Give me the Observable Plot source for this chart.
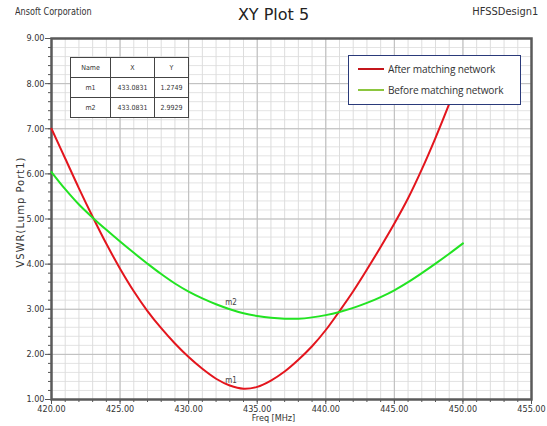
<!DOCTYPE html>
<html><head><meta charset="utf-8">
<script src="https://cdn.jsdelivr.net/npm/d3@7"></script>
<script src="https://cdn.jsdelivr.net/npm/@observablehq/plot@0.6"></script>
<style>
body{margin:0;background:#fff;font-family:"DejaVu Sans",sans-serif;}
#wrap{position:relative;width:547px;height:426px;overflow:hidden;}
.abs{position:absolute;white-space:nowrap;}
#tbl{position:absolute;left:70px;top:57px;border-collapse:collapse;background:#fff;font-size:7px;color:#333;font-stretch:condensed;}
#tbl td{border:1px solid #444;text-align:center;height:19px;padding:0;}
#legend{position:absolute;left:348px;top:55px;width:171px;height:48px;border:1px solid #2a3a7a;background:#fff;font-family:"Open Sans","DejaVu Sans",sans-serif;font-size:11px;color:#333;}
.lg{position:absolute;left:9px;display:flex;align-items:center;}
.lg span{display:inline-block;transform:scaleX(0.92);transform-origin:left center;letter-spacing:-0.2px;}
.sw{width:26px;height:2px;margin-right:4px;}
</style></head>
<body><div id="wrap"></div>
<script>
const freq = [420,421,422,423,424,425,426,427,428,429,430,431,432,433,434,435,436,437,438,439,440,441,442,443,444,445,446,447,448,449,450];
const vswrAfter = [7.00,6.34,5.68,5.05,4.45,3.90,3.40,2.96,2.58,2.24,1.94,1.68,1.46,1.31,1.24,1.28,1.42,1.62,1.88,2.18,2.54,2.96,3.40,3.88,4.38,4.90,5.46,6.10,6.80,7.55,8.35];
const vswrBefore = [6.04,5.66,5.32,5.03,4.76,4.50,4.25,4.01,3.78,3.57,3.39,3.24,3.11,3.00,2.91,2.85,2.81,2.79,2.79,2.82,2.87,2.94,3.03,3.14,3.27,3.42,3.60,3.80,4.01,4.23,4.46];
const seriesNames = ["After matching network","Before matching network"];
const seriesColors = ["#e3151d","#22e322"];
const legendColors = ["#c4161c","#8cc63f"];
const markerNames = ["m1","m2"];
const markerX = [433.0831,433.0831];
const markerY = [1.2749,2.9929];
const xTicks = [420,425,430,435,440,445,450,455];
const yTicks = [1,2,3,4,5,6,7,8,9];

const rows = [];
freq.forEach((f,i)=>{ rows.push({f, v: vswrAfter[i], s: seriesNames[0]}); });
freq.forEach((f,i)=>{ rows.push({f, v: vswrBefore[i], s: seriesNames[1]}); });
const markers = markerNames.map((n,i)=>({n, x: markerX[i], y: markerY[i]}));

const chart = Plot.plot({
  width: 547, height: 426,
  marginLeft: 51, marginRight: 16, marginTop: 38, marginBottom: 27,
  style: {fontFamily: '"DejaVu Sans",sans-serif', fontStretch: "condensed", fontSize: "9px", color: "#333", background: "transparent"},
  x: {domain: [420,455]},
  y: {domain: [1,9]},
  color: {domain: seriesNames, range: seriesColors},
  marks: [
    Plot.gridX({ticks: d3.range(420,455.1,1), stroke: "#d4d4d4", strokeOpacity: 1, strokeWidth: 0.8}),
    Plot.gridY({ticks: d3.range(1,9.01,0.2), stroke: "#dcdcdc", strokeOpacity: 1, strokeWidth: 0.8}),
    Plot.gridX({ticks: xTicks, stroke: "#bdbdbd", strokeOpacity: 1, strokeWidth: 1}),
    Plot.gridY({ticks: yTicks, stroke: "#bdbdbd", strokeOpacity: 1, strokeWidth: 1}),
    Plot.axisX({ticks: d3.range(420,455.1,1), text: null, tickSize: 3, stroke: "#555", label: null}),
    Plot.axisX({ticks: xTicks, tickFormat: d => d.toFixed(2), tickSize: 5, stroke: "#555", tickPadding: 1, label: null, fill: "#333"}),
    Plot.axisY({ticks: d3.range(1,9.01,0.2), text: null, tickSize: 3, stroke: "#555", label: null}),
    Plot.axisY({ticks: yTicks, tickFormat: d => d.toFixed(2), tickSize: 6, stroke: "#555", tickPadding: 1, label: null, fill: "#333"}),
    Plot.frame({stroke: "#5a5a5a", strokeWidth: 2.5}),
    Plot.line(rows, {x: "f", y: "v", z: "s", stroke: "s", strokeWidth: 2, curve: "catmull-rom"}),
    Plot.text(markers, {x: "x", y: "y", text: "n", dy: -7, dx: 0, fill: "#444", fontSize: 8})
  ]
});
const wrap = document.getElementById("wrap");
chart.style.position = "absolute"; chart.style.left = "0"; chart.style.top = "0";
wrap.appendChild(chart);

function addText(txt, css){
  const d = document.createElement("div"); d.className = "abs"; d.textContent = txt;
  Object.assign(d.style, css); wrap.appendChild(d); return d;
}
addText("Ansoft Corporation", {left: "15px", top: "5px", fontSize: "11px", color: "#333", transform: "scaleX(0.74)", transformOrigin: "left top"});
addText("XY Plot 5", {left: "0", width: "547px", textAlign: "center", top: "5px", fontSize: "16px", color: "#222"});
addText("HFSSDesign1", {right: "9px", top: "5px", fontSize: "11px", color: "#333", transform: "scaleX(0.9)", transformOrigin: "right top"});
addText("Freq [MHz]", {left: "0", width: "547px", textAlign: "center", top: "413px", fontSize: "9px", color: "#333", transform: "scaleX(0.9)"});
addText("VSWR(Lump Port1)", {left: "20px", top: "212px", fontSize: "10px", color: "#333", letterSpacing: "1px", transform: "translate(-50%,-50%) rotate(-90deg)"});

// marker table
const tbl = document.createElement("table"); tbl.id = "tbl";
const tdata = [["Name","X","Y"]].concat(markers.map(m => [m.n, m.x.toFixed(4), m.y.toFixed(4)]));
const widths = [39,43,33];
tdata.forEach(r => {
  const tr = document.createElement("tr");
  r.forEach((c,j) => { const td = document.createElement("td"); td.textContent = c; td.style.width = widths[j]+"px"; tr.appendChild(td); });
  tbl.appendChild(tr);
});
wrap.appendChild(tbl);

// legend
const lg = document.createElement("div"); lg.id = "legend";
seriesNames.forEach((n,i) => {
  const row = document.createElement("div"); row.className = "lg"; row.style.top = (5 + i*21) + "px";
  const sw = document.createElement("div"); sw.className = "sw"; sw.style.background = legendColors[i];
  const t = document.createElement("span"); t.textContent = n;
  row.appendChild(sw); row.appendChild(t); lg.appendChild(row);
});
wrap.appendChild(lg);
</script></body></html>
